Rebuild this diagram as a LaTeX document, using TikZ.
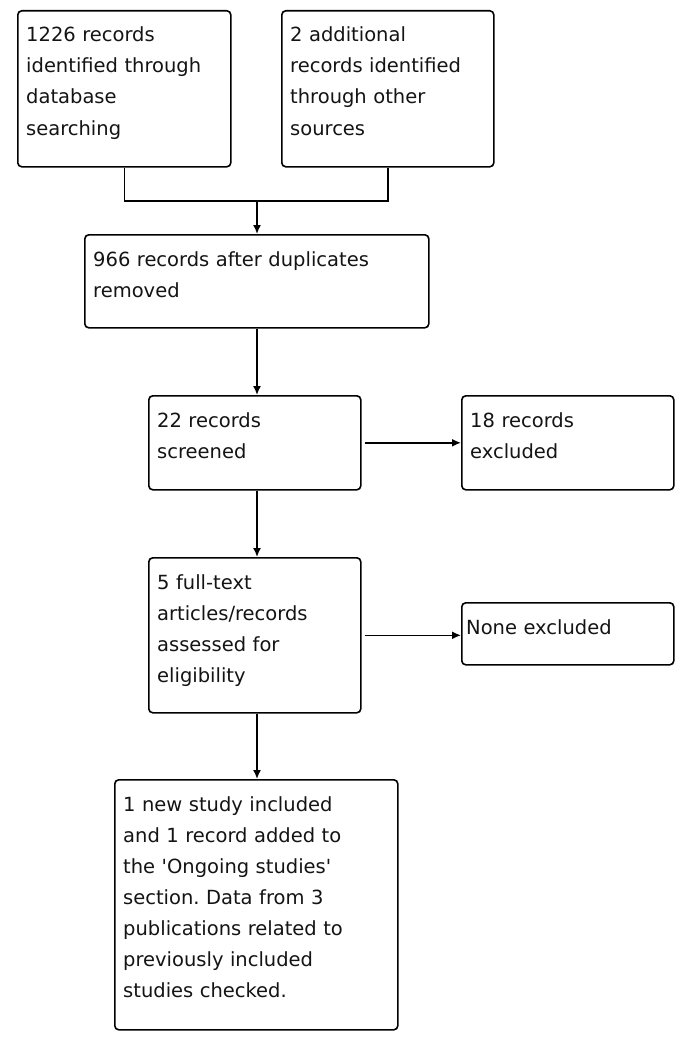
\documentclass[tikz,border=0pt]{standalone}
\usepackage{fontspec}
\setmainfont{DejaVu Sans}
\usetikzlibrary{arrows.meta,calc}
\begin{document}
\frenchspacing
\begin{tikzpicture}[x=1pt,y=-1pt,
  box/.style={draw=black, line width=1.6pt, rounded corners=4pt, inner sep=0pt, anchor=north west},
  txt/.style={anchor=base west, inner sep=0pt, align=left, font=\fontsize{19.5}{31}\selectfont, text=black!92},
  conn/.style={draw=black, line width=1.6pt},
  arr/.style={conn, -{Latex[length=9pt,width=8pt]}}]
\useasboundingbox (0,0) rectangle (694,1049);
\fill[white] (0,0) rectangle (694,1049);
% boxes
\node[box, minimum width=213pt, minimum height=156pt] (b1) at (17,10) {};
\node[box, minimum width=212pt, minimum height=156pt] (b2) at (281,10) {};
\node[box, minimum width=344pt, minimum height=93pt] (b3) at (84,234) {};
\node[box, minimum width=212pt, minimum height=94pt] (b4) at (148,395) {};
\node[box, minimum width=212pt, minimum height=94pt] (b5) at (461,395) {};
\node[box, minimum width=212pt, minimum height=155pt] (b6) at (148,557) {};
\node[box, minimum width=212pt, minimum height=62pt] (b7) at (461,602) {};
\node[box, minimum width=283pt, minimum height=250pt] (b8) at (114,779) {};
% texts
\node[txt, text width=205pt] (t1) at ([shift={(9,32)}]b1.north west) {1226 records\\identified through\\database\\searching};
\node[txt, text width=205pt] (t2) at ([shift={(9,32)}]b2.north west) {2 additional\\records identified\\through other\\sources};
\node[txt, text width=330pt] (t3) at ([shift={(9,32)}]b3.north west) {966 records after duplicates\\removed};
\node[txt, text width=200pt] (t4) at ([shift={(9,32)}]b4.north west) {22 records\\screened};
\node[txt, text width=200pt] (t5) at ([shift={(9,32)}]b5.north west) {18 records\\excluded};
\node[txt, text width=200pt] (t6) at ([shift={(9,32)}]b6.north west) {5 full-text\\articles/records\\assessed for\\eligibility};
\node[txt, text width=200pt] (t7) at ([shift={(5,32)}]b7.north west) {None excluded};
\node[txt, text width=275pt] (t8) at ([shift={(9,32)}]b8.north west) {1 new study included\\and 1 record added to\\the \textquotesingle Ongoing studies\textquotesingle\\section. Data from 3\\publications related to\\previously included\\studies checked.};
% connectors
\coordinate (j) at (257,201);
\draw[conn] (b1.south) |- (j);
\draw[conn] (b2.south) |- (j);
\draw[arr] (j) -- (j |- b3.north);
\draw[arr] (j |- b3.south) -- (j |- b4.north);
\draw[arr] ([xshift=3pt]b4.east) -- (b5.west |- b4.east);
\draw[arr] (j |- b4.south) -- (j |- b6.north);
\draw[arr] ([xshift=3pt]b6.east) -- (b7.west |- b6.east);
\draw[arr] (j |- b6.south) -- (j |- b8.north);
\end{tikzpicture}
\end{document}
